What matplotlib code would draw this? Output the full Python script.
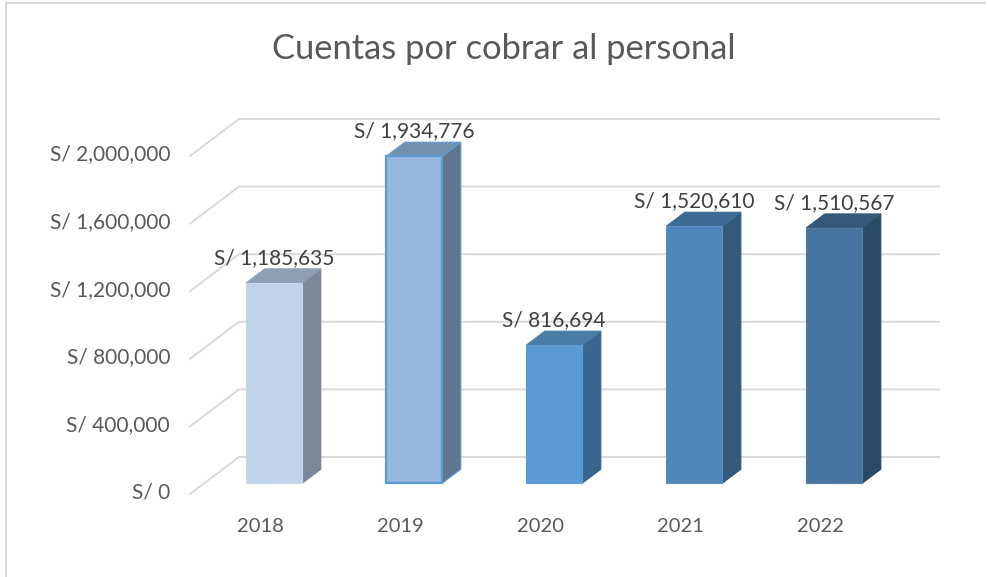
import matplotlib
matplotlib.use('Agg')
import matplotlib.pyplot as plt
from matplotlib.patches import Polygon

plt.rcParams['font.family'] = ['Lato', 'DejaVu Sans']

years = ['2018', '2019', '2020', '2021', '2022']
values = [1185635, 1934776, 816694, 1520610, 1510567]
value_labels = ['S/ 1,185,635', 'S/ 1,934,776', 'S/ 816,694', 'S/ 1,520,610', 'S/ 1,510,567']
y_ticks = [0, 400000, 800000, 1200000, 1600000, 2000000]
y_labels = ['S/ 0', 'S/ 400,000', 'S/ 800,000', 'S/ 1,200,000', 'S/ 1,600,000', 'S/ 2,000,000']

# colores: frente, lado, tapa, borde
front = ['#c0d1ea', '#97b7e0', '#5b9bd5', '#4f87bd', '#44749f']
side = ['#7b8899', '#5f7590', '#38668f', '#315a7c', '#2b4a66']
top = ['#8d9fb3', '#7390ae', '#4a7ca8', '#3e6b94', '#34597b']
edge = ['#c8d7ee', '#5b9bd5', '#5b9bd5', '#5f8fc0', '#55809f']

W, H = 988, 577
PX_X = 140.0  # px por categoria
PX_Y = 169e-6  # px por sol
DX = 49 / PX_X  # profundidad del piso
DY = 37 / PX_Y
X0 = 260.0
Y0 = 494.0
GRID = '#d9d9d9'
TXT = '#595959'
TXT_LAB = '#404040'


def sk(x, v, d):
    return (x + d * DX, v + d * DY)


fig = plt.figure(figsize=(W / 100, H / 100), dpi=100)
ax = fig.add_axes([0, 0, 1, 1])
ax.set_xlim(-X0 / PX_X, (W - X0) / PX_X)
ax.set_ylim(-(H - Y0) / PX_Y, Y0 / PX_Y)
ax.axis('off')

# marco del grafico
fig.add_artist(plt.Line2D([6 / W, 6 / W], [0, 1 - 2.5 / H], color=GRID, lw=1.5))
fig.add_artist(plt.Line2D([6 / W, 985 / W], [1 - 2.5 / H, 1 - 2.5 / H], color=GRID, lw=1.5))

# rejilla
for t in y_ticks:
    a = sk(-0.5, t, 0)
    b = sk(-0.5, t, 1)
    c = sk(4.5, t, 1)
    ax.plot([a[0], b[0], c[0]], [a[1], b[1], c[1]], color=GRID, lw=1.4, zorder=1)

# barras
d1, d2 = 0.29, 0.67
hw = 0.2
for i, v in enumerate(values):
    l, r = i - hw, i + hw
    ax.add_patch(Polygon([sk(r, 0, d1), sk(r, 0, d2), sk(r, v, d2), sk(r, v, d1)],
                         fc=side[i], ec=edge[i] if i == 1 else side[i], lw=0.8, zorder=3))
    ax.add_patch(Polygon([sk(l, v, d1), sk(r, v, d1), sk(r, v, d2), sk(l, v, d2)],
                         fc=top[i], ec=edge[i] if i == 1 else top[i], lw=0.8, zorder=3))
    ax.add_patch(Polygon([sk(l, 0, d1), sk(r, 0, d1), sk(r, v, d1), sk(l, v, d1)],
                         fc=front[i], ec=edge[i], lw=1.6 if i == 1 else 0.8, zorder=4))
    lx = sk(i, v, d1)[0]
    ly = sk(i, v, d2)[1]
    ax.annotate(value_labels[i], (lx, ly), xytext=(0, 1), textcoords='offset pixels',
                ha='center', va='bottom', fontsize=15, color=TXT_LAB, zorder=5)

# etiquetas de ejes
for t, lab in zip(y_ticks, y_labels):
    ax.annotate(lab, (-0.5, t), xytext=(-20, 1.5), textcoords='offset pixels',
                ha='right', va='center', fontsize=15, color=TXT)
for i, y in enumerate(years):
    ax.annotate(y, (i, 0), xytext=(0, -32), textcoords='offset pixels',
                ha='center', va='center', fontsize=14.5, color=TXT)

fig.text(504 / W, 1 - 49 / H, 'Cuentas por cobrar al personal', ha='center', va='center',
         fontsize=24.8, color=TXT)

fig.savefig('out.png', dpi=100)
